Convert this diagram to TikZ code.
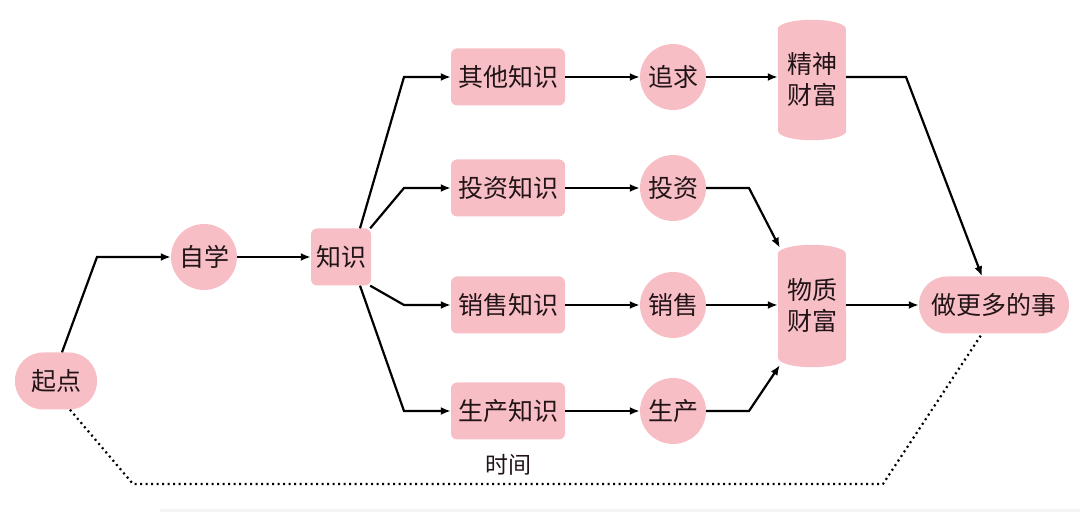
\documentclass[tikz,border=0pt]{standalone}
\usepackage{fontspec}
\setmainfont{Noto Sans CJK SC}
\usetikzlibrary{arrows.meta}
\definecolor{pinkc}{HTML}{F7BEC6}
\definecolor{txtc}{HTML}{221416}
\tikzset{
  base/.style={fill=pinkc, text=txtc, font=\fontsize{25}{29}\selectfont, inner sep=0pt},
  pill/.style={base, rectangle, rounded corners=28pt, minimum height=57pt},
  roundbox/.style={base, rectangle, rounded corners=6pt, minimum height=57pt},
  disc/.style={base, circle, minimum size=66pt},
  cylbox/.style={rectangle, text=txtc, font=\fontsize{25}{31}\selectfont, inner sep=0pt, minimum width=68pt, align=center},
  arr/.style={line width=2.2pt, -{Latex[length=10pt,width=8pt]}, black},
  timeline/.style={line width=2.2pt, dash pattern=on 2pt off 3.5pt, black},
}
\newcommand{\cylfill}[1]{%
  \fill[pinkc] ([yshift=-9pt]#1.north west) arc[start angle=180, end angle=0, x radius=34pt, y radius=9pt]
    -- ([yshift=9pt]#1.south east) arc[start angle=0, end angle=-180, x radius=34pt, y radius=9pt] -- cycle;}
\begin{document}
\begin{tikzpicture}[x=1pt,y=1pt]
\useasboundingbox (0,0) rectangle (1080,512);
\fill[black!4] (160,0) rectangle (1080,3);

% cylinders (frames first, then fill behind text)
\node[cylbox, minimum height=120pt] (jsf) at (812,432) {};
\node[cylbox, minimum height=122pt] (wzf) at (812,206) {};
\cylfill{jsf}
\cylfill{wzf}
\node[cylbox] at (jsf) {精神\\财富};
\node[cylbox] at (wzf) {物质\\财富};

\node[pill, minimum width=82pt] (qd) at (56,131) {起点};
\node[disc] (zx) at (204,255) {自学};
\node[roundbox, minimum width=60pt] (zs) at (341,255) {知识};

\node[roundbox, minimum width=114pt] (qt) at (508,435) {其他知识};
\node[roundbox, minimum width=114pt] (tz) at (508,324) {投资知识};
\node[roundbox, minimum width=114pt] (xs) at (508,207) {销售知识};
\node[roundbox, minimum width=114pt] (sc) at (508,101) {生产知识};

\node[disc] (zq) at (673,435) {追求};
\node[disc] (tzv) at (673,324) {投资};
\node[disc] (xsv) at (673,207) {销售};
\node[disc] (scv) at (673,101) {生产};

\node[pill, minimum width=150pt] (zgd) at (994,207) {做更多的事};

\node[text=txtc, font=\fontsize{23}{26}\selectfont, inner sep=0pt] (sj) at (508,47) {时间};

% corner coordinates
\coordinate (c1) at (97,255);
\coordinate (c2) at (404,435);
\coordinate (c3) at (404,324);
\coordinate (c4) at (404,207);
\coordinate (c5) at (404,101);
\coordinate (c6) at (749,324);
\coordinate (c7) at (749,101);
\coordinate (c8) at (906,435);
\coordinate (d1) at (133,28);
\coordinate (d2) at (883,28);

% connectors
\draw[arr] ([xshift=6pt]qd.north) -- (c1) -- (zx.west);
\draw[arr] (zx.east) -- (zs.west);
\draw[arr] ([xshift=19pt]zs.north) -- (c2) -- (qt.west);
\draw[arr] ([xshift=-1pt]zs.north east) -- (c3) -- (tz.west);
\draw[arr] ([xshift=-1pt]zs.south east) -- (c4) -- (xs.west);
\draw[arr] ([xshift=19pt]zs.south) -- (c5) -- (sc.west);

\draw[arr] (qt.east) -- (zq.west);
\draw[arr] (tz.east) -- (tzv.west);
\draw[arr] (xs.east) -- (xsv.west);
\draw[arr] (sc.east) -- (scv.west);

\draw[arr] (zq.east) -- (zq.east -| jsf.west);
\draw[arr] (tzv.east) -- (c6) -- ([xshift=2pt,yshift=-3pt]wzf.north west);
\draw[arr] (xsv.east) -- (xsv.east -| wzf.west);
\draw[arr] (scv.east) -- (c7) -- ([xshift=2pt,yshift=2pt]wzf.south west);

\draw[arr] (jsf.east |- c8) -- (c8) -- ([xshift=-12pt]zgd.north);
\draw[arr] (zgd.west -| wzf.east) -- (zgd.west);

\draw[timeline] ([xshift=14pt]qd.south) -- (d1) -- (d2) -- ([xshift=-12pt]zgd.south);
\end{tikzpicture}
\end{document}
